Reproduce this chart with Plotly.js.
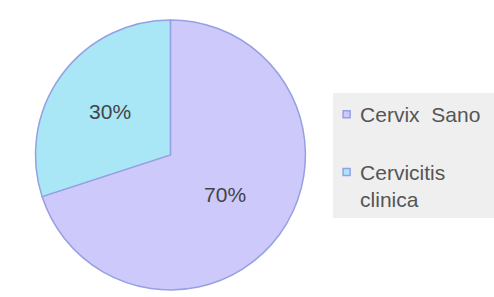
<!DOCTYPE html>
<html>
<head>
<meta charset="utf-8">
<script src="https://cdn.plot.ly/plotly-3.0.1.min.js"></script>
<style>html,body{margin:0;padding:0;background:#fff;}#chart{width:494px;height:297px;}</style>
</head>
<body>
<div id="chart"></div>
<script>
const labels = ["Cervix  Sano<br>&nbsp;", "Cervicitis<br>clinica"];
const values = [70, 30];
const colors = ["#cdcafb", "#a9e6f6"];

const trace = {
  type: "pie",
  labels: labels,
  values: values,
  sort: false,
  direction: "clockwise",
  rotation: 0,
  marker: { colors: colors, line: { color: "#96a0e2", width: 1.5 } },
  textinfo: "percent",
  texttemplate: "%{percent:.0%}",
  textposition: "inside",
  insidetextorientation: "horizontal",
  textfont: { family: "Liberation Sans, Arial, sans-serif", size: 21, color: "#444444" },
  domain: { x: [0.071, 0.619], y: [0.024, 0.933] },
  hoverinfo: "none"
};

const layout = {
  width: 494,
  height: 297,
  margin: { l: 0, r: 0, t: 0, b: 0 },
  paper_bgcolor: "#ffffff",
  showlegend: true,
  shapes: [{
    type: "rect", xref: "paper", yref: "paper",
    x0: 333 / 494, x1: 1, y0: 1 - 218 / 297, y1: 1 - 93 / 297,
    fillcolor: "#efefef", line: { width: 0 }, layer: "below"
  }],
  legend: {
    x: 0.648, y: 0.683, xanchor: "left", yanchor: "top",
    bgcolor: "rgba(0,0,0,0)",
    font: { family: "Liberation Sans, Arial, sans-serif", size: 21, color: "#555555" },
    valign: "top",
    itemwidth: 30,
    tracegroupgap: 0
  }
};

Plotly.newPlot("chart", [trace], layout, { displayModeBar: false, staticPlot: true }).then(function (gd) {
  gd.querySelectorAll(".legend .legendpoints path").forEach(function (p) {
    p.setAttribute("d", "M10,3.5H3V-3.5H10Z");
  });
});
</script>
</body>
</html>
